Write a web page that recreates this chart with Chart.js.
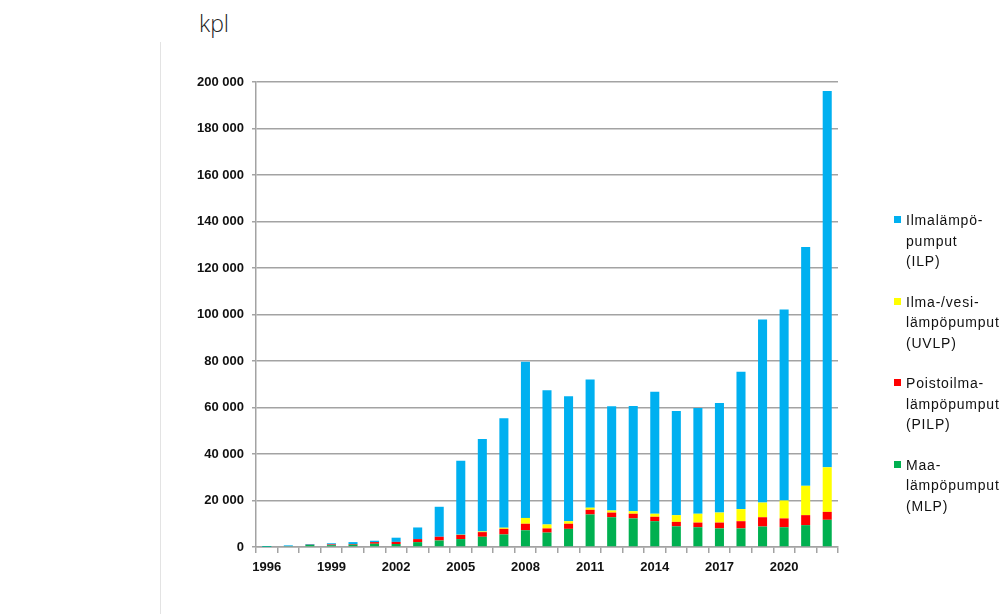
<!DOCTYPE html>
<html lang="fi">
<head>
<meta charset="utf-8">
<title>Lämpöpumppujen myynti Suomessa</title>
<script src="https://cdn.jsdelivr.net/npm/chart.js@4/dist/chart.umd.min.js"></script>
<style>
  html, body { margin: 0; padding: 0; background: #fff; }
  #wrap { position: relative; width: 1004px; height: 614px; overflow: hidden; }
  #c { position: absolute; left: 0; top: 0; }
  #unit { position: absolute; left: 199px; top: 12px; font: 300 23px "Open Sans", "Liberation Sans", sans-serif; color: #222; line-height: 1; }
  #rule { position: absolute; left: 160px; top: 42px; width: 1px; height: 572px; background: #e3e3e3; }
  #legend { position: absolute; left: 894px; top: 0; font: 14px "Liberation Sans", Arial, sans-serif; color: #111; letter-spacing: 0.8px; }
  .item { position: absolute; left: 0; white-space: nowrap; }
  .box { position: absolute; left: 0; top: 6px; width: 7px; height: 7px; }
  .txt { position: absolute; left: 12px; top: 0; line-height: 20.5px; }
</style>
</head>
<body>
<div id="wrap">
  <div id="rule"></div>
  <div id="unit">kpl</div>
  <canvas id="c" width="1004" height="614"></canvas>
  <div id="legend"></div>
</div>
<script>
// Vuodet
const years = [1996, 1997, 1998, 1999, 2000, 2001, 2002, 2003, 2004, 2005,
               2006, 2007, 2008, 2009, 2010, 2011, 2012, 2013, 2014, 2015,
               2016, 2017, 2018, 2019, 2020, 2021, 2022];

// Maalämpöpumput (MLP), kpl
const mlp  = [100, 400, 900, 800, 1000, 1400, 1300, 2100, 2800, 3400,
              4400, 5400, 7200, 6200, 7800, 14000, 12800, 12300, 11100, 8900,
              8500, 8000, 8000, 8800, 8500, 9400, 11700];
// Poistoilmalämpöpumput (PILP), kpl
const pilp = [0, 0, 100, 300, 300, 700, 900, 1300, 1600, 1800,
              2000, 2400, 2800, 1800, 2200, 2000, 2000, 2000, 1900, 1900,
              2000, 2500, 3100, 4000, 3800, 4300, 3400];
// Ilma-/vesilämpöpumput (UVLP), kpl
const uvlp = [0, 0, 0, 0, 0, 0, 0, 0, 0, 100,
              300, 500, 2500, 1700, 1100, 900, 900, 1100, 1300, 2900,
              3800, 4300, 5200, 6300, 7700, 12600, 19200];
// Ilmalämpöpumput (ILP), kpl
const ilp  = [300, 300, 300, 500, 800, 600, 1800, 5000, 12900, 31800,
              39800, 47100, 67200, 57700, 53700, 55100, 44800, 45200, 52500, 44800,
              45500, 47100, 59100, 78800, 82200, 102700, 161800];

// Sarjojen nimet ja värit (pinoamisjärjestys alhaalta ylös)
const seriesNames  = ['Maa-\nlämpöpumput\n(MLP)', 'Poistoilma-\nlämpöpumput\n(PILP)',
                      'Ilma-/vesi-\nlämpöpumput\n(UVLP)', 'Ilmalämpö-\npumput\n(ILP)'];
const seriesColors = ['#00B050', '#FF0000', '#FFFF00', '#00B0F0'];

// Y-akselin asteikko
const yMax = 200000;
const yStep = 20000;
// X-akselin nimiöt joka kolmas vuosi
const labelEvery = 3;

const fmt = v => String(v).replace(/\B(?=(\d{3})+(?!\d))/g, ' ');

const seriesValues = [mlp, pilp, uvlp, ilp];
const datasets = seriesValues.map((vals, i) => ({
  label: seriesNames[i],
  data: vals,
  backgroundColor: seriesColors[i],
  borderWidth: 0,
  stack: 'kaikki',
  barPercentage: 0.42,
  categoryPercentage: 1.0
}));

const tickFont = { family: '"Liberation Sans", Arial, sans-serif', size: 13, weight: 'bold' };
const axisGray = '#a3a3a3';

const chart = new Chart(document.getElementById('c'), {
  type: 'bar',
  data: { labels: years.map(String), datasets },
  options: {
    responsive: false,
    animation: false,
    layout: { padding: { left: 160, right: 166, top: 82, bottom: 27 } },
    plugins: { legend: { display: false }, tooltip: { enabled: false } },
    scales: {
      x: {
        stacked: true,
        offset: true,
        afterFit: s => { s.height = 40; },
        grid: { offset: true, drawOnChartArea: false, drawTicks: true, tickLength: 6, color: axisGray, lineWidth: 1.5 },
        border: { display: true, color: axisGray, width: 1.5 },
        ticks: {
          autoSkip: false, maxRotation: 0, padding: 7, color: '#111', font: tickFont,
          callback: (v, i) => (i % labelEvery === 0 ? String(years[i]) : '')
        }
      },
      y: {
        stacked: true,
        min: 0, max: yMax,
        afterFit: s => { s.width = 96; },
        grid: { color: axisGray, lineWidth: 1.5, tickLength: 4, drawTicks: true },
        border: { display: true, color: axisGray, width: 1.5 },
        ticks: { stepSize: yStep, padding: 8, color: '#111', font: tickFont, callback: v => fmt(v) }
      }
    }
  }
});

// Selite oikealle, ylin sarja ensin
const legend = document.getElementById('legend');
const legendTop = 210;
const legendGap = 81.5;
chart.data.datasets.slice().reverse().forEach((ds, k) => {
  const item = document.createElement('div');
  item.className = 'item';
  item.style.top = (legendTop + k * legendGap) + 'px';
  const box = document.createElement('div');
  box.className = 'box';
  box.style.background = ds.backgroundColor;
  const txt = document.createElement('div');
  txt.className = 'txt';
  txt.innerHTML = ds.label.split('\n').map(s => s.replace(/&/g, '&amp;').replace(/</g, '&lt;')).join('<br>');
  item.appendChild(box);
  item.appendChild(txt);
  legend.appendChild(item);
});
</script>
</body>
</html>
